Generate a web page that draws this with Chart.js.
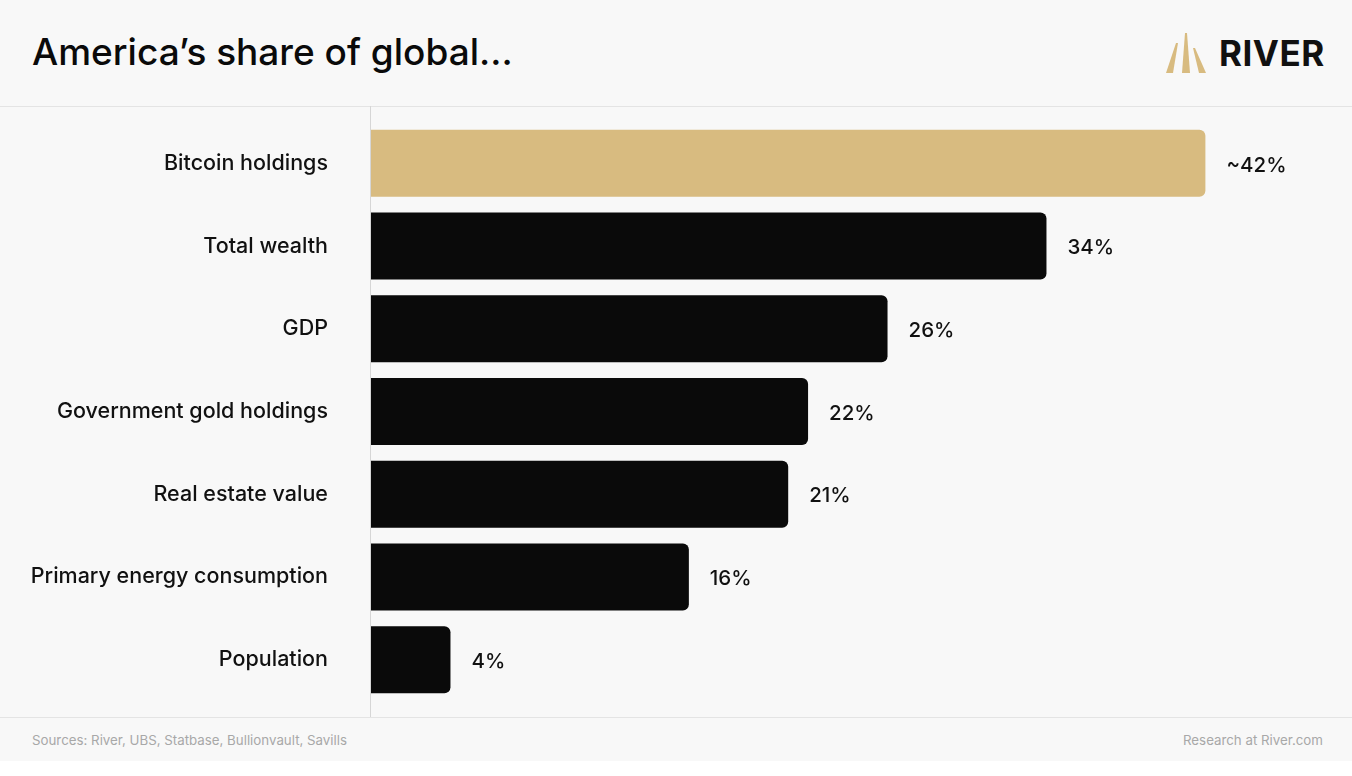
<!DOCTYPE html>
<html>
<head>
<meta charset="utf-8">
<script src="https://cdn.jsdelivr.net/npm/chart.js@4"></script>
<style>
  html, body { margin: 0; padding: 0; }
  body { width: 1352px; height: 776px; background: #ffffff; position: relative; overflow: hidden; font-family: Inter, "Noto Sans", sans-serif; }
  #page { position: absolute; left: 0; top: 0; width: 1352px; height: 761px; background: #f8f8f8; }
  #title { position: absolute; left: 32px; top: 29px; font-size: 37px; font-weight: 500; color: #0a0a0a; letter-spacing: 0; }
  #logo { position: absolute; left: 1163px; top: 31px; }
  #brand { position: absolute; left: 1219px; top: 32px; font-size: 35px; font-weight: 700; color: #111; letter-spacing: 0.5px; }
  #headline { position: absolute; left: 0; top: 106px; width: 1352px; height: 1px; background: #e4e4e4; }
  #footline { position: absolute; left: 0; top: 717px; width: 1352px; height: 1px; background: #e4e4e4; }
  #axisline { position: absolute; left: 370px; top: 106px; width: 1px; height: 611px; background: #d6d6d6; }
  .foot { position: absolute; top: 732px; font-size: 13.3px; color: #a8a8a8; }
  #sources { left: 32px; }
  #research { right: 29px; }
  canvas { position: absolute; left: 0; top: 0; }
</style>
</head>
<body>
<div id="page"></div>
<div id="headline"></div>
<div id="footline"></div>
<div id="axisline"></div>
<div id="title">America’s share of global...</div>
<svg id="logo" width="46" height="44" viewBox="0 0 46 44">
  <polygon points="3,42 13,12 15,12 10,42" fill="#d8bb80"/>
  <polygon points="19,42 22,2 24,2 27,42" fill="#d8bb80"/>
  <polygon points="30,17 32,17 43,42 36,42" fill="#d8bb80"/>
</svg>
<div id="brand">RIVER</div>
<div class="foot" id="sources">Sources: River, UBS, Statbase, Bullionvault, Savills</div>
<div class="foot" id="research">Research at River.com</div>
<canvas id="chart" width="1352" height="776"></canvas>
<script>
const categories = ['Bitcoin holdings', 'Total wealth', 'GDP', 'Government gold holdings', 'Real estate value', 'Primary energy consumption', 'Population'];
const shares = [42, 34, 26, 22, 21, 16, 4];
const valueLabels = ['~42%', '34%', '26%', '22%', '21%', '16%', '4%'];
const barColors = ['#d8bb80', '#0a0a0a', '#0a0a0a', '#0a0a0a', '#0a0a0a', '#0a0a0a', '#0a0a0a'];

const valueLabelPlugin = {
  id: 'valueLabels',
  afterDatasetsDraw(chart) {
    const ctx = chart.ctx;
    const meta = chart.getDatasetMeta(0);
    ctx.save();
    ctx.font = '500 20.5px Inter, "Noto Sans", sans-serif';
    ctx.fillStyle = '#111';
    ctx.textAlign = 'left';
    ctx.textBaseline = 'middle';
    meta.data.forEach((bar, i) => {
      ctx.fillText(valueLabels[i], bar.x + 21, bar.y + 2);
    });
    ctx.restore();
  }
};

new Chart(document.getElementById('chart'), {
  type: 'bar',
  data: {
    labels: categories,
    datasets: [{
      data: shares,
      backgroundColor: barColors,
      borderRadius: 6,
      borderSkipped: 'start',
      categoryPercentage: 0.81,
      barPercentage: 1
    }]
  },
  options: {
    indexAxis: 'y',
    responsive: false,
    animation: false,
    layout: { padding: { top: 122, bottom: 75, left: 0, right: 87 } },
    plugins: { legend: { display: false }, tooltip: { enabled: false } },
    scales: {
      x: { display: false, min: 0, max: 45 },
      y: {
        afterFit(scale) { scale.width = 371; },
        grid: { display: false, drawTicks: false },
        border: { display: false },
        ticks: {
          padding: 43,
          color: '#111',
          font: { family: 'Inter, "Noto Sans", sans-serif', size: 21.5, weight: '500', lineHeight: 1.0 }
        }
      }
    }
  },
  plugins: [valueLabelPlugin]
});
</script>
</body>
</html>
